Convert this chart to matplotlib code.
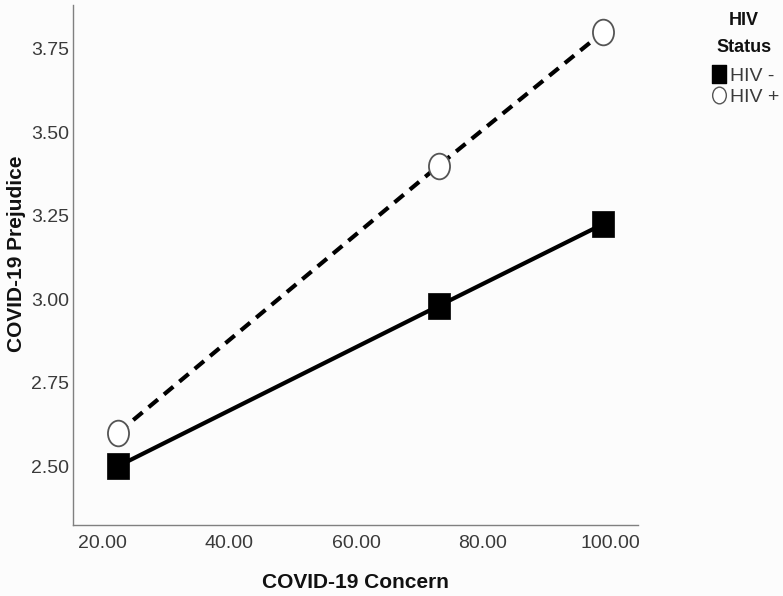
import matplotlib
matplotlib.use("Agg")
import matplotlib.pyplot as plt
from matplotlib.lines import Line2D
from matplotlib.path import Path
from matplotlib.transforms import Affine2D

concern = [22.5, 73.0, 98.9]
hiv_neg = [2.50, 2.98, 3.225]
hiv_pos = [2.60, 3.40, 3.80]
series_labels = ["HIV -", "HIV +"]
legend_title = ["HIV", "Status"]
xticks = [20, 40, 60, 80, 100]
yticks = [2.50, 2.75, 3.00, 3.25, 3.50, 3.75]

plt.rcParams['font.family'] = ["Liberation Sans", "DejaVu Sans"]

# slightly narrow markers (reference is horizontally condensed)
sq = Path([(-0.41, -0.5), (0.41, -0.5), (0.41, 0.5), (-0.41, 0.5), (-0.41, -0.5)],
          [Path.MOVETO, Path.LINETO, Path.LINETO, Path.LINETO, Path.CLOSEPOLY])
ell = Affine2D().scale(0.82, 1.0).transform_path(Path.unit_circle())

W, H = 783, 596
fig = plt.figure(figsize=(W / 100, H / 100), dpi=100, facecolor="#fcfcfc")
ax = fig.add_axes([73 / W, 1 - 525 / H, 565 / W, 520 / H])
ax.set_facecolor("#fcfcfc")

ax.plot(concern, hiv_pos, color="black", lw=3.0, ls=(0, (2.9, 1.9)), zorder=2)
ax.plot(concern, hiv_neg, color="black", lw=3.0, ls="-", zorder=2)
ax.plot(concern, hiv_pos, ls="none", marker=ell, ms=18.5, mfc="white", mec="#555555", mew=1.3, zorder=3)
ax.plot(concern, hiv_neg, ls="none", marker=sq, ms=19, mfc="black", mec="black", mew=0.5, zorder=3)

ax.set_xlim(15.43, 104.4)
ax.set_ylim(2.324, 3.881)
ax.set_xticks(xticks)
ax.set_xticklabels([f"{v:.2f}" for v in xticks])
ax.set_yticks(yticks)
ax.set_yticklabels([f"{v:.2f}" for v in yticks])
ax.tick_params(length=0, labelsize=14, labelcolor="#3a3a3a")
ax.tick_params(axis="x", pad=7)
ax.tick_params(axis="y", pad=3)
for s in ["top", "right"]:
    ax.spines[s].set_visible(False)
for s in ["left", "bottom"]:
    ax.spines[s].set_color("#808080")
    ax.spines[s].set_linewidth(1.0)

ax.set_xlabel("COVID-19 Concern", fontsize=15, fontweight="bold", color="#111111")
ax.set_ylabel("COVID-19 Prejudice", fontsize=15, fontweight="bold", color="#111111")
ax.xaxis.set_label_coords(0.5, -0.092)
ax.yaxis.set_label_coords(-0.084, 0.521)

fig.text(744 / W, 1 - 25 / H, legend_title[0], ha="center", va="baseline",
         fontsize=13, fontweight="bold", color="#111111")
fig.text(744 / W, 1 - 52 / H, legend_title[1], ha="center", va="baseline",
         fontsize=13, fontweight="bold", color="#111111")

handles = [
    Line2D([], [], ls="none", marker=sq, ms=12.5, mfc="black", mec="black"),
    Line2D([], [], ls="none", marker=ell, ms=12, mfc="white", mec="#555555", mew=1.0),
]
leg = fig.legend(handles, series_labels, loc="upper left",
                 bbox_to_anchor=(712 / W, 1 - 67 / H), frameon=False, fontsize=14,
                 handlelength=0.75, handletextpad=0.15, labelspacing=0.2,
                 borderpad=0, borderaxespad=0)
for t in leg.get_texts():
    t.set_color("#3a3a3a")

fig.savefig("out.png", dpi=100, facecolor=fig.get_facecolor())
